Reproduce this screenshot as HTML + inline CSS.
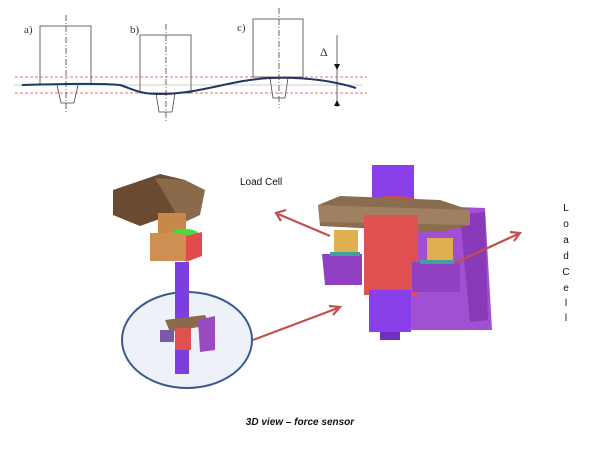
<!DOCTYPE html>
<html><head><style>
body{margin:0;background:#fff;width:600px;height:457px;overflow:hidden;font-family:"Liberation Sans",sans-serif}
</style></head><body>
<svg width="600" height="457" viewBox="0 0 600 457" xmlns="http://www.w3.org/2000/svg">
<!-- top diagram -->
<g font-family="Liberation Serif" font-size="11" fill="#333">
<text x="24" y="33">a)</text><text x="130" y="33">b)</text><text x="237" y="31">c)</text>
<text x="320" y="56" font-size="12">Δ</text>
</g>
<g fill="none" stroke="#444" stroke-width="0.8">
<rect x="40" y="26" width="51" height="58"/>
<rect x="140" y="35" width="51" height="58"/>
<rect x="253" y="19" width="50" height="58"/>
<path d="M57 85 L61 103 L74 103 L78 85"/>
<path d="M156 93 L159 112 L172 112 L175 93"/>
<path d="M270 78 L273 98 L285 98 L288 78"/>
<path d="M66 15 V113 M166 24 V122 M279 8 V108" stroke-dasharray="6,2,1,2"/>
<line x1="14" y1="85" x2="362" y2="85" stroke="#999" stroke-width="0.5"/>
<line x1="337" y1="35" x2="337" y2="107"/>
</g>
<g stroke="#e04040" stroke-width="0.7" stroke-dasharray="3,2">
<line x1="15" y1="77" x2="367" y2="77"/><line x1="15" y1="93" x2="367" y2="93"/>
</g>
<path d="M337 70 l-3 -6 h6z M337 100 l-3 6 h6z" fill="#111"/>
<path d="M22 85 C60 84 100 83 120 85 C135 90 140 94 160 94 C200 94 230 80 270 78 C300 77 330 80 356 88" fill="none" stroke="#1f3864" stroke-width="2"/>

<!-- left assembly -->
<ellipse cx="187" cy="340" rx="65" ry="48" fill="#eef1f7" stroke="#3b5a8c" stroke-width="2"/>
<rect x="175" y="262" width="14" height="112" fill="#7b3fe0"/>
<path d="M113 190 L160 174 L185 180 L185 210 L140 226 L113 215z" fill="#6b4a32"/>
<path d="M155 178 L185 180 L205 190 L200 215 L185 222 L175 212z" fill="#8a6a4a"/>
<rect x="158" y="213" width="28" height="20" fill="#c8884a"/>
<ellipse cx="185" cy="236" rx="15" ry="7" fill="#3ee040"/>
<rect x="150" y="233" width="36" height="28" fill="#cf8e52"/>
<path d="M186 236 L202 232 L202 256 L186 262z" fill="#e04c4c"/>
<path d="M165 320 L205 315 L210 325 L170 332z" fill="#8a6a4a"/>
<path d="M198 320 L215 316 L215 350 L200 352z" fill="#9a4ac0"/>
<rect x="175" y="328" width="16" height="22" fill="#e05050"/>
<rect x="160" y="330" width="14" height="12" fill="#7a5aa0"/>

<!-- right inset -->
<rect x="372" y="165" width="42" height="45" fill="#8a40e8"/>
<path d="M400 205 L485 208 L492 330 L405 330z" fill="#a050d0"/>
<path d="M460 215 L485 212 L488 320 L470 322z" fill="#8a3ab8"/>
<ellipse cx="393" cy="205" rx="30" ry="9" fill="#d84848"/>
<path d="M318 205 L340 196 L440 200 L470 210 L470 225 L440 232 L320 226z" fill="#8a6c4e"/>
<path d="M318 205 L470 210 L470 225 L320 222z" fill="#a08060"/>
<rect x="364" y="215" width="54" height="80" fill="#e05050"/>
<rect x="369" y="290" width="42" height="42" fill="#8a40e8"/>
<rect x="380" y="332" width="20" height="8" fill="#7030c0"/>
<rect x="334" y="230" width="24" height="26" fill="#e0b050"/>
<rect x="427" y="238" width="26" height="26" fill="#e0b050"/>
<path d="M322 254 L362 254 L362 285 L325 285z" fill="#9040c0"/>
<path d="M412 262 L460 262 L460 292 L412 292z" fill="#9040c0"/>
<rect x="330" y="252" width="30" height="4" fill="#40a0a0"/>
<rect x="420" y="260" width="34" height="4" fill="#40a0a0"/>

<!-- arrows -->
<g stroke="#c0504d" stroke-width="2.2" fill="none">
<line x1="330" y1="236" x2="278" y2="214"/><path d="M286 210 L276 213 L281 221"/>
<line x1="455" y1="263" x2="518" y2="234"/><path d="M510 232 L520 233 L514 241"/>
<line x1="253" y1="340" x2="338" y2="308"/><path d="M329 306 L340 307 L333 315"/>
</g>

<text x="240" y="185" font-size="10" fill="#111">Load Cell</text>
<g font-size="10" fill="#111" text-anchor="middle">
<text x="566" y="211">L</text><text x="566" y="227">o</text><text x="566" y="243">a</text>
<text x="566" y="259">d</text><text x="566" y="275">C</text><text x="566" y="291">e</text>
<text x="566" y="306">l</text><text x="566" y="321">l</text>
</g>
<text x="300" y="425" font-size="10" font-weight="bold" font-style="italic" text-anchor="middle" fill="#111">3D view – force sensor</text>
</svg>
</body></html>
